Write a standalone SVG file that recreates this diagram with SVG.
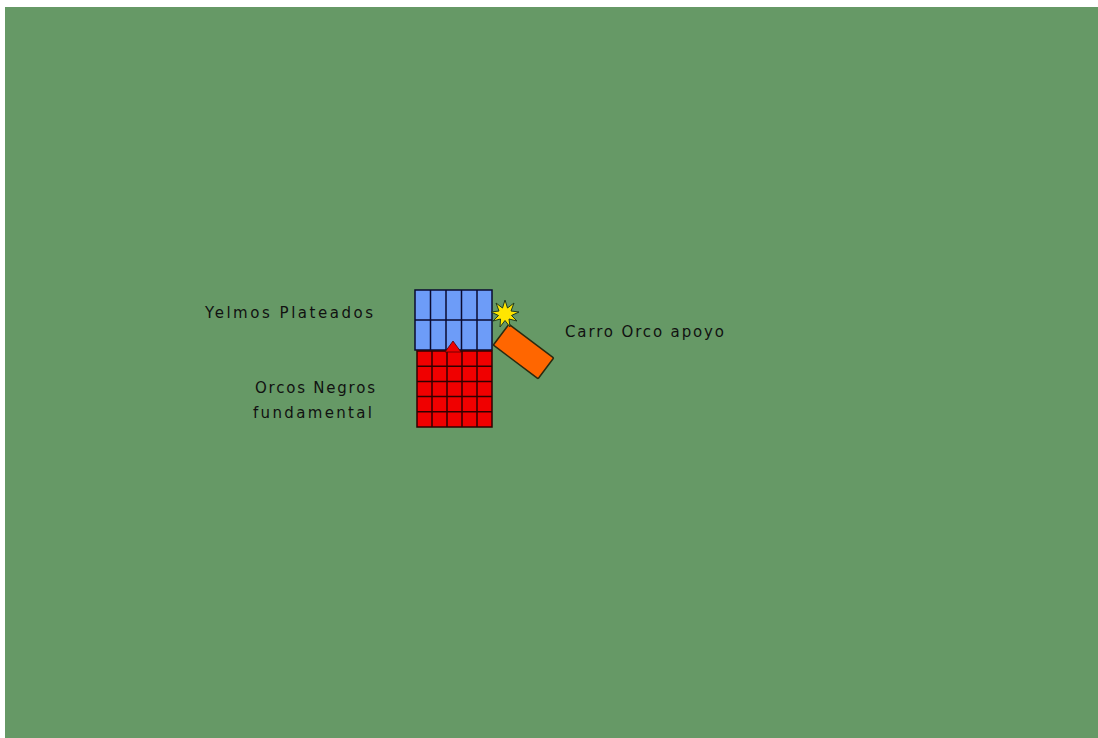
<svg xmlns="http://www.w3.org/2000/svg" width="1098" height="738" viewBox="0 0 1098 738">
  <style>
    .lbl { font-family: "DejaVu Sans", "Liberation Sans", sans-serif; font-size: 15px; fill: #111111; }
    .gridB { stroke: #0a0a30; stroke-width: 1.5; }
    .gridR { stroke: #300000; stroke-width: 1.5; }
    path.gridB, path.gridR { fill: none; }
  </style>
  <rect x="0" y="0" width="1098" height="738" fill="#ffffff"/>
  <rect id="field" x="5" y="7" width="1093" height="731" fill="#669966"/>

  <g id="yelmos-plateados">
    <rect x="415" y="290" width="77" height="60" style="fill:#6d9cf8" class="gridB"/>
    <path class="gridB" d="M430.5 290V350M446 290V350M461.5 290V350M477 290V350M415 320H492"/>
    <text class="lbl" x="373" y="318" text-anchor="end" textLength="168" lengthAdjust="spacing">Yelmos Plateados</text>
  </g>

  <g id="orcos-negros">
    <rect x="417" y="351" width="75" height="76" style="fill:#f00000" class="gridR"/>
    <path class="gridR" d="M432 351V427M447 351V427M462 351V427M477 351V427M417 366.2H492M417 381.4H492M417 396.6H492M417 411.8H492"/>
    <polygon points="453,341 461,352 445,352" fill="#f00000" stroke="#500000" stroke-width="0.8"/>
    <text class="lbl" x="375" y="393" text-anchor="end" textLength="120" lengthAdjust="spacing">Orcos Negros</text>
    <text class="lbl" x="372" y="418" text-anchor="end" textLength="119" lengthAdjust="spacing">fundamental</text>
  </g>

  <g id="carro-orco">
    <rect x="-28" y="-13" width="56" height="26" rx="1" fill="#ff6600" stroke="#2a2a10" stroke-width="1.5" transform="translate(523.5 351.5) rotate(37)"/>
    <text class="lbl" x="565" y="337" textLength="159" lengthAdjust="spacing">Carro Orco apoyo</text>
  </g>

  <g id="impacto">
    <polygon points="505,300 507.5,308 514,303 511,311 519,312 511.5,315.5 517,321 509,319 510,327 505,320.5 500,327 500.5,319 493,321 498.5,315.5 491,312 499,311 496,303 502.5,308" fill="#ffe600" stroke="#1f3a1f" stroke-width="1"/>
  </g>
</svg>
